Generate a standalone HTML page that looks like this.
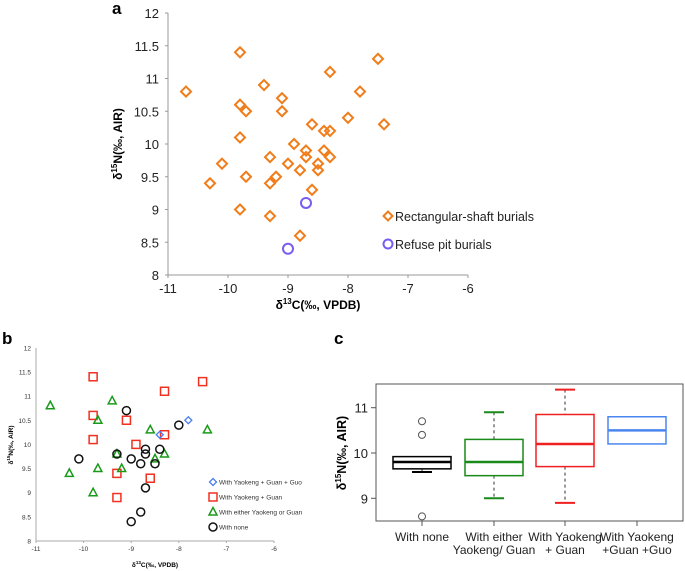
<!DOCTYPE html>
<html><head><meta charset="utf-8">
<style>
body{margin:0;background:#fff;width:685px;height:571px;overflow:hidden;font-family:"Liberation Sans",sans-serif;}
svg{position:absolute;left:0;top:0;}
</style></head><body>
<svg id="fig" width="685" height="571"></svg>
<script>
// Panel a data
const aOrangeX=[-10.7,-9.8,-9.4,-9.1,-9.8,-9.7,-9.1,-9.8,-10.1,-10.3,-9.7,-9.3,-9.3,-9.2,-9.0,-8.9,-8.8,-8.7,-8.7,-8.6,-8.6,-8.5,-8.5,-8.4,-8.4,-8.3,-8.3,-8.3,-8.0,-7.8,-7.5,-7.4,-9.8,-9.3,-8.8];
const aOrangeY=[10.8,11.4,10.9,10.7,10.6,10.5,10.5,10.1,9.7,9.4,9.5,9.8,9.4,9.5,9.7,10.0,9.6,9.9,9.8,10.3,9.3,9.7,9.6,10.2,9.9,10.2,9.8,11.1,10.4,10.8,11.3,10.3,9.0,8.9,8.6];
const aPurpleX=[-8.7,-9.0];
const aPurpleY=[9.1,8.4];
const xTicks=[-11,-10,-9,-8,-7,-6];
const yTicks=[8,8.5,9,9.5,10,10.5,11,11.5,12];
// Panel b data
const bBlueX=[-7.8,-8.4], bBlueY=[10.5,10.2];
const bRedX=[-9.8,-7.5,-8.3,-9.8,-9.1,-8.3,-9.8,-8.9,-9.3,-8.6,-9.3];
const bRedY=[11.4,11.3,11.1,10.6,10.5,10.2,10.1,10.0,9.4,9.3,8.9];
const bGreenX=[-10.7,-9.4,-9.7,-8.6,-7.4,-8.3,-9.3,-8.5,-9.7,-9.2,-10.3,-9.8];
const bGreenY=[10.8,10.9,10.5,10.3,10.3,9.8,9.8,9.7,9.5,9.5,9.4,9.0];
const bBlackX=[-9.1,-8.0,-10.1,-9.3,-9.0,-8.7,-8.7,-8.4,-8.8,-8.5,-8.7,-8.8,-9.0];
const bBlackY=[10.7,10.4,9.7,9.8,9.7,9.9,9.8,9.9,9.6,9.6,9.1,8.6,8.4];
// Panel c data
const cCats=[["With none"],["With either","Yaokeng/ Guan"],["With Yaokeng","+ Guan"],["With Yaokeng","+Guan +Guo"]];
const cLow=[9.58,9.0,8.9,null];
const cQ1=[9.65,9.5,9.7,10.2];
const cMed=[9.8,9.8,10.2,10.5];
const cQ3=[9.92,10.3,10.85,10.8];
const cHigh=[null,10.9,11.4,null];
const cOutliers=[[10.7,10.4,8.6],[],[],[]];
const cColors=["#000","#1a8a1a","#f02020","#4a86f0"];
const cYTicks=[9,10,11];

const NS="http://www.w3.org/2000/svg";
const svg=document.getElementById('fig');
function mk(tag,attrs,parent,txt){const e=document.createElementNS(NS,tag);for(const k in attrs)e.setAttribute(k,attrs[k]);if(txt!==undefined)e.textContent=txt;(parent||svg).appendChild(e);return e;}

function diamond(g,x,y,r,c,sw){return mk('path',{d:`M${x},${y-r}L${x+r},${y}L${x},${y+r}L${x-r},${y}Z`,fill:'none',stroke:c,'stroke-width':sw},g);}

// ---------- Panel a ----------
{
const g=mk('g',{});

const X=v=>168+(v+11)*60, Y=v=>275-(v-8)*65.5;
const t=mk('text',{x:112,y:14,'font-size':17,'font-weight':'bold'},g,'a');

mk('line',{x1:168,y1:13,x2:168,y2:275,stroke:'#999'},g);
mk('line',{x1:168,y1:275,x2:468,y2:275,stroke:'#999'},g);
yTicks.forEach(v=>{mk('line',{x1:165,x2:168,y1:Y(v),y2:Y(v),stroke:'#999'},g);
 const e=mk('text',{x:159,y:Y(v)+5,'font-size':13,'text-anchor':'end',fill:'#222'},g,String(v));
 });
xTicks.forEach(v=>{mk('line',{x1:X(v),x2:X(v),y1:275,y2:278,stroke:'#999'},g);
 const e=mk('text',{x:X(v),y:293,'font-size':13,'text-anchor':'middle',fill:'#222'},g,String(v));
 });
const xt=mk('text',{x:318,y:309,'font-size':12,'font-weight':'bold','text-anchor':'middle'},g);
xt.innerHTML='δ<tspan font-size="8" dy="-5">13</tspan><tspan dy="5">C(‰, VPDB)</tspan>';

const yt=mk('text',{x:0,y:0,'font-size':12,'font-weight':'bold','text-anchor':'middle',transform:'translate(122,144) rotate(-90)'},g);
yt.innerHTML='δ<tspan font-size="8" dy="-5">15</tspan><tspan dy="5">N(‰, AIR)</tspan>';

aOrangeX.forEach((x,i)=>{const m=diamond(g,X(x),Y(aOrangeY[i]),5,'#f07d1a',2);
 });
aPurpleX.forEach((x,i)=>{const m=mk('circle',{cx:X(x),cy:Y(aPurpleY[i]),r:5,fill:'none',stroke:'#7a5cf0','stroke-width':2},g);
 });
const l1=mk('g',{},g);
diamond(l1,388,216,4.5,'#f07d1a',2);mk('text',{x:395,y:221,'font-size':12.5,fill:'#222'},l1,'Rectangular-shaft burials');
const l2=mk('g',{},g);
mk('circle',{cx:388,cy:244,r:4.5,fill:'none',stroke:'#7a5cf0','stroke-width':2},l2);mk('text',{x:395,y:249,'font-size':12.5,fill:'#222'},l2,'Refuse pit burials');
}

// ---------- Panel b ----------
{
const g=mk('g',{});

const X=v=>36+(v+11)*47.6, Y=v=>541-(v-8)*48.3;
const t=mk('text',{x:2,y:344,'font-size':17,'font-weight':'bold'},g,'b');

mk('line',{x1:36,y1:348,x2:36,y2:541,stroke:'#aaa'},g);
mk('line',{x1:36,y1:541,x2:274,y2:541,stroke:'#aaa'},g);
yTicks.forEach(v=>{const e=mk('text',{x:31,y:Y(v)+2.5,'font-size':6.5,'text-anchor':'end',fill:'#333'},g,String(v));
 });
xTicks.forEach(v=>{mk('line',{x1:X(v),x2:X(v),y1:541,y2:543,stroke:'#aaa'},g);
 const e=mk('text',{x:X(v),y:551,'font-size':6.5,'text-anchor':'middle',fill:'#333'},g,String(v));
 });
const xt=mk('text',{x:155,y:567,'font-size':6.5,'font-weight':'bold','text-anchor':'middle'},g);
xt.innerHTML='δ<tspan font-size="4.5" dy="-3">13</tspan><tspan dy="3">C(‰, VPDB)</tspan>';

const yt=mk('text',{x:0,y:0,'font-size':6.5,'font-weight':'bold','text-anchor':'middle',transform:'translate(13,445) rotate(-90)'},g);
yt.innerHTML='δ<tspan font-size="4.5" dy="-3">15</tspan><tspan dy="3">N(‰, AIR)</tspan>';

const sq=(p,x,y,c)=>mk('rect',{x:x-4,y:y-4,width:8,height:8,fill:'none',stroke:c,'stroke-width':1.5},p);
const tri=(p,x,y,c)=>mk('path',{d:`M${x},${y-4.5}L${x+4},${y+3}L${x-4},${y+3}Z`,fill:'none',stroke:c,'stroke-width':1.5},p);
const cir=(p,x,y,c)=>mk('circle',{cx:x,cy:y,r:4,fill:'none',stroke:c,'stroke-width':1.5},p);
const dia=(p,x,y,c)=>diamond(p,x,y,3.5,c,1.3);
bRedX.forEach((x,i)=>{const m=sq(g,X(x),Y(bRedY[i]),'#f03020');});
bGreenX.forEach((x,i)=>{const m=tri(g,X(x),Y(bGreenY[i]),'#1a9a1a');});
bBlackX.forEach((x,i)=>{const m=cir(g,X(x),Y(bBlackY[i]),'#111');});
bBlueX.forEach((x,i)=>{const m=dia(g,X(x),Y(bBlueY[i]),'#4a7ef0');});
const leg=[['With Yaokeng + Guan + Guo',dia,'#4a7ef0'],['With Yaokeng + Guan',sq,'#f03020'],['With either Yaokeng or Guan',tri,'#1a9a1a'],['With none',cir,'#111']];
leg.forEach((L,i)=>{const lg=mk('g',{},g);
 const y=482+i*15;L[1](lg,213,y,L[2]);mk('text',{x:219,y:y+2.5,'font-size':6.5,fill:'#333'},lg,L[0]);});
}

// ---------- Panel c ----------
{
const g=mk('g',{});

const Y=v=>453-(v-10)*45.3;
const cx=[422,494,565,637];
const t=mk('text',{x:334,y:344,'font-size':17,'font-weight':'bold'},g,'c');

mk('rect',{x:376,y:384,width:307,height:137,fill:'none',stroke:'#555','stroke-width':1},g);
cYTicks.forEach(v=>{mk('line',{x1:371,x2:376,y1:Y(v),y2:Y(v),stroke:'#555'},g);
 const e=mk('text',{x:368,y:Y(v)+5,'font-size':13,'text-anchor':'end',fill:'#222'},g,String(v));
 });
const yt=mk('text',{x:0,y:0,'font-size':12.5,'font-weight':'bold','text-anchor':'middle',transform:'translate(346,453) rotate(-90)'},g);
yt.innerHTML='δ<tspan font-size="8" dy="-5">15</tspan><tspan dy="5">N(‰, AIR)</tspan>';

cCats.forEach((lab,i)=>{
 const x=cx[i],c=cColors[i],w=29;
 mk('line',{x1:x,x2:x,y1:521,y2:526,stroke:'#555'},g);
 lab.forEach((s,j)=>{const e=mk('text',{x:x,y:541+j*13,'font-size':12,'text-anchor':'middle',fill:'#222'},g,s);
  });
 const bx=mk('g',{},g);
 if(cHigh[i]!==null){mk('line',{x1:x,x2:x,y1:Y(cHigh[i]),y2:Y(cQ3[i]),stroke:'#333','stroke-dasharray':'3,3'},bx);
  mk('line',{x1:x-10,x2:x+10,y1:Y(cHigh[i]),y2:Y(cHigh[i]),stroke:c,'stroke-width':2},bx);}
 if(cLow[i]!==null){mk('line',{x1:x,x2:x,y1:Y(cQ1[i]),y2:Y(cLow[i]),stroke:'#333','stroke-dasharray':'3,3'},bx);
  mk('line',{x1:x-10,x2:x+10,y1:Y(cLow[i]),y2:Y(cLow[i]),stroke:c,'stroke-width':2},bx);}
 mk('rect',{x:x-w,y:Y(cQ3[i]),width:2*w,height:Y(cQ1[i])-Y(cQ3[i]),fill:'none',stroke:c,'stroke-width':1.5},bx);
 mk('line',{x1:x-w,x2:x+w,y1:Y(cMed[i]),y2:Y(cMed[i]),stroke:c,'stroke-width':2.5},bx);
 cOutliers[i].forEach(v=>{const o=mk('circle',{cx:x,cy:Y(v),r:3.5,fill:'none',stroke:'#555','stroke-width':1},g);
  });
});
}
</script>
</body></html>
